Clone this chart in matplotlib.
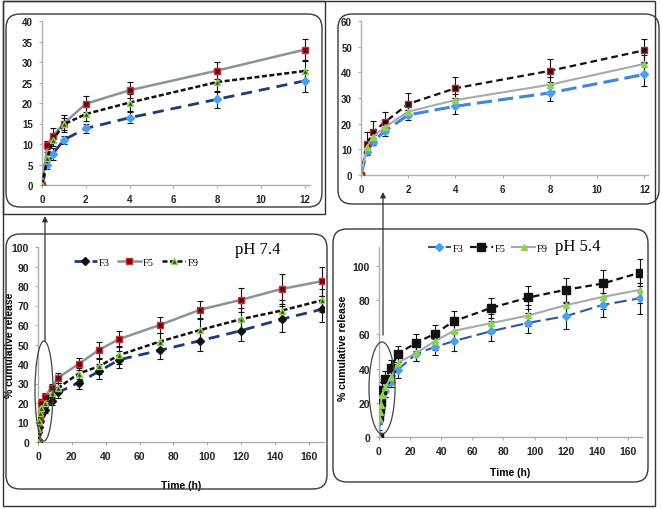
import numpy as np
import matplotlib
matplotlib.use("Agg")
import matplotlib.pyplot as plt
from matplotlib.patches import FancyBboxPatch, Ellipse, Rectangle

W, H = 662, 510

# sampling times (h)
times = [0, 0.25, 0.5, 1, 2, 4, 8, 12, 24, 36, 48, 72, 96, 120, 144, 168]
n_early = 8  # points up to 12 h shown in the zoomed insets

# pH 7.4
f3_74 = [0, 5.0, 7.6, 11.0, 13.8, 16.4, 20.9, 25.4, 30.5, 36.2, 42.2, 47.0, 52.0, 57.1, 63.0, 68.1]
f3_74_err = [0, 1.2, 1.5, 1.0, 1.0, 1.3, 2.0, 2.6, 3.5, 4.0, 4.5, 4.5, 5.5, 5.5, 6.5, 6.8]
f5_74 = [0, 9.8, 12.0, 15.0, 19.8, 23.1, 27.9, 33.0, 40.0, 47.2, 52.8, 60.0, 67.9, 72.9, 78.5, 82.5]
f5_74_err = [0, 1.0, 1.8, 2.0, 2.0, 2.0, 2.0, 2.5, 3.0, 4.0, 4.2, 4.2, 4.5, 6.0, 7.5, 7.5]
f9_74 = [0, 6.5, 11.0, 14.8, 17.3, 20.1, 25.1, 27.8, 35.1, 38.8, 44.6, 51.5, 57.5, 63.0, 67.4, 72.7]
f9_74_err = [0, 1.5, 1.5, 1.5, 1.8, 2.0, 2.3, 2.5, 3.0, 4.0, 4.5, 4.5, 5.5, 5.5, 5.5, 6.0]

# pH 5.4
f3_54 = [0, 9.1, 13.0, 17.0, 23.4, 26.8, 32.0, 39.2, 48.7, 52.6, 56.0, 61.8, 66.7, 70.6, 77.2, 81.1]
f3_54_err = [0, 1.0, 1.5, 1.7, 2.0, 3.2, 3.0, 4.5, 4.5, 4.5, 5.5, 6.0, 6.0, 7.5, 7.0, 9.0]
f5_54 = [0, 12.1, 16.6, 20.5, 27.7, 33.8, 40.6, 48.6, 55.0, 60.4, 67.6, 75.4, 81.5, 86.0, 89.7, 96.1]
f5_54_err = [4.0, 4.5, 4.5, 4.0, 4.3, 4.5, 4.5, 4.5, 5.0, 5.0, 6.0, 6.0, 7.0, 7.0, 8.0, 8.0]
f9_54 = [0, 11.0, 14.7, 18.6, 24.7, 29.2, 35.2, 43.3, 49.1, 56.0, 62.0, 66.5, 71.0, 77.0, 81.9, 86.0]
f9_54_err = [0, 1.5, 2.0, 2.0, 2.0, 2.5, 3.0, 3.5, 4.5, 5.0, 5.5, 5.5, 6.0, 7.0, 7.0, 8.0]

labels = ["F3", "F5", "F9"]

SANS = ["Liberation Sans Narrow", "Liberation Sans", "DejaVu Sans"]
SERIF = ["Liberation Serif", "DejaVu Serif"]

fig = plt.figure(figsize=(W / 100, H / 100), dpi=100)


def px_axes(l, t, r, b):
    return fig.add_axes([l / W, 1 - b / H, (r - l) / W, (b - t) / H])


def style_axes(ax, xlim, ylim, xticks, yticks, fs):
    ax.set_xlim(*xlim)
    ax.set_ylim(*ylim)
    ax.set_xticks(xticks)
    ax.set_yticks(yticks)
    for s in ["top", "right"]:
        ax.spines[s].set_visible(False)
    for s in ["left", "bottom"]:
        ax.spines[s].set_color("#a8b0b4")
        ax.spines[s].set_linewidth(1.0)
    ax.tick_params(direction="out", length=2.5, width=0.8, color="#a8b0b4",
                   labelsize=fs, labelcolor="#222222", pad=4)
    for lab in ax.get_xticklabels() + ax.get_yticklabels():
        lab.set_family(SANS)
        lab.set_fontweight("bold")
    ax.patch.set_alpha(0)


def series(ax, t, y, e, color, ls, lw, marker, mfc, mec, ms, label=None, dashes=None):
    ax.errorbar(t, y, yerr=e, fmt="none", ecolor="#111111", elinewidth=0.8,
                capsize=2, capthick=0.8, zorder=2)
    line, = ax.plot(t, y, color=color, ls=ls, lw=lw, marker=marker, mfc=mfc,
                    mec=mec, ms=ms, mew=1.0, label=label, zorder=3)
    if dashes is not None:
        line.set_dashes(dashes)
    return line


def draw_74(ax, k, inset):
    t = times[:k]
    f3_mk = "#4a9ff0" if inset else "#111111"
    l1 = series(ax, t, f3_74[:k], f3_74_err[:k], "#1f3a7a", "--", 2.0, "D",
                f3_mk, f3_mk, 4, "F3", (4, 2.5))
    l2 = series(ax, t, f5_74[:k], f5_74_err[:k], "#8a9496", "-", 1.8, "s",
                "#5a0c0c", "#d03030", 4.5, "F5")
    l3 = series(ax, t, f9_74[:k], f9_74_err[:k], "#111111", "--", 1.8, "^",
                "#2a4a18", "#8fd24f", 4.5, "F9", (2, 1))
    return [l1, l2, l3]


def draw_54(ax, k, inset):
    t = times[:k]
    f5_edge = "#c02020" if inset else "#111111"
    l1 = series(ax, t, f3_54[:k], f3_54_err[:k], "#3f86dc" if inset else "#2a58a8",
                "--", 2.2 if inset else 1.5, "D", "#4a9ff0", "#4a9ff0", 4, "F3",
                (5, 2) if inset else (6, 2.5))
    l2 = series(ax, t, f5_54[:k], f5_54_err[:k], "#111111", "--", 1.6, "s",
                "#111111", f5_edge, 4.5 if inset else 5.5, "F5", (3, 1.8))
    l3 = series(ax, t, f9_54[:k], f9_54_err[:k], "#a4acae", "-", 1.5, "^",
                "#8fd24f", "#8fd24f", 4.5, "F9")
    return [l1, l2, l3]


# top-left inset: pH 7.4, first 12 h
ax1 = px_axes(42, 22, 310, 186)
draw_74(ax1, n_early, True)
style_axes(ax1, (0, 12.25), (0, 40), range(0, 13, 2), range(0, 41, 5), 7)

# top-right inset: pH 5.4, first 12 h
ax2 = px_axes(361, 22, 648, 176)
draw_54(ax2, n_early, True)
style_axes(ax2, (0, 12.15), (0, 60), range(0, 13, 2), range(0, 61, 10), 7)

# bottom-left: pH 7.4, full run
ax3 = px_axes(38, 248, 324, 443)
h3 = draw_74(ax3, len(times), False)
style_axes(ax3, (0, 169), (0, 100), range(0, 161, 20), range(0, 101, 10), 7.5)
fig.text(10 / W, 1 - 345 / H, "% cumulative release", family=SANS, fontweight="bold",
         fontsize=7.5, rotation=90, ha="center", va="center")
ax3.set_xlabel("Time (h)", family=SANS, fontweight="bold", fontsize=7.5, labelpad=14)
ax3.text(0.77, 1.03, "pH 7.4", transform=ax3.transAxes, family=SERIF, fontsize=12,
         ha="center", va="top")
fig.legend(handles=h3, labels=labels, loc="center", ncol=3, frameon=False,
           bbox_to_anchor=(136 / W, 1 - 263 / H), prop={"family": SERIF, "size": 7.5},
           handlelength=2.2, handletextpad=0.2, columnspacing=0.8)

# bottom-right: pH 5.4, full run
ax4 = px_axes(379, 248, 642, 438)
h4 = draw_54(ax4, len(times), False)
style_axes(ax4, (0, 169), (0, 111), range(0, 161, 20), range(0, 101, 20), 7.5)
fig.text(343 / W, 1 - 348 / H, "% cumulative release", family=SANS, fontweight="bold",
         fontsize=7.5, rotation=90, ha="center", va="center")
ax4.set_xlabel("Time (h)", family=SANS, fontweight="bold", fontsize=7.5, labelpad=8)
fig.legend(handles=h4, labels=labels, loc="center", ncol=3, frameon=False,
           bbox_to_anchor=(488 / W, 1 - 249 / H), prop={"family": SERIF, "size": 7.5},
           handlelength=2.2, handletextpad=0.2, columnspacing=0.6)
fig.text(578 / W, 1 - 247 / H, "pH 5.4", family=SERIF, fontsize=12, ha="center", va="center")

# overlay in pixel units for frames, ellipses and arrows
ov = fig.add_axes([0, 0, 1, 1], zorder=10)
ov.set_xlim(0, W)
ov.set_ylim(H, 0)
ov.axis("off")
ov.patch.set_alpha(0)

ov.add_patch(Rectangle((3, 2), 652, 505, fill=False, ec="#333333", lw=1.0))
ov.add_patch(Rectangle((3, 2), 322, 213, fill=False, ec="#333333", lw=1.0))

for (x0, y0, x1, y1) in [(6, 15, 322, 208), (338, 15, 659, 205),
                         (6, 235, 327, 490), (333, 230, 648, 483)]:
    ov.add_patch(FancyBboxPatch((x0 + 14, y0 + 14), x1 - x0 - 28, y1 - y0 - 28,
                                boxstyle="round,pad=14", fill=False,
                                ec="#3a3a3a", lw=1.0))

ov.add_patch(Ellipse((44, 392), 18, 100, fill=False, ec="#444444", lw=0.9))
ov.add_patch(Ellipse((382, 389), 26, 92, fill=False, ec="#444444", lw=0.9))

ov.annotate("", xy=(45, 217), xytext=(45, 342),
            arrowprops=dict(arrowstyle="-|>", color="#333333", lw=0.9,
                            mutation_scale=8, shrinkA=0, shrinkB=0))
ov.annotate("", xy=(383, 193), xytext=(383, 336),
            arrowprops=dict(arrowstyle="-|>", color="#333333", lw=0.9,
                            mutation_scale=8, shrinkA=0, shrinkB=0))

fig.savefig("out.png", dpi=100)
